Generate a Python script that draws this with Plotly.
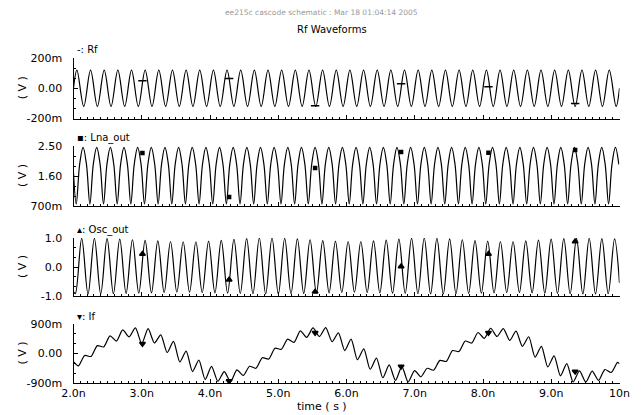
import plotly.graph_objects as go

# ---------------- data ----------------
x_ticks = [2, 3, 4, 5, 6, 7, 8, 9, 10]
x_ticktext = ["2.0n", "3.0n", "4.0n", "5.0n", "6.0n", "7.0n", "8.0n", "9.0n", "10n"]

# Rf: extrema times (ns) and values (V)
rf_times = [2.0] + [round(2.05 + 0.1 * k, 4) for k in range(80)] + [10.0]
rf_vals = [0.0,
    0.12, -0.12, 0.12, -0.12, 0.12, -0.12, 0.12, -0.12, 0.12, -0.12,
    0.12, -0.12, 0.12, -0.12, 0.12, -0.12, 0.12, -0.12, 0.12, -0.12,
    0.12, -0.12, 0.12, -0.12, 0.12, -0.12, 0.12, -0.12, 0.12, -0.12,
    0.12, -0.12, 0.12, -0.12, 0.12, -0.12, 0.12, -0.12, 0.12, -0.12,
    0.12, -0.12, 0.12, -0.12, 0.12, -0.12, 0.12, -0.12, 0.12, -0.12,
    0.12, -0.12, 0.12, -0.12, 0.12, -0.12, 0.12, -0.12, 0.12, -0.12,
    0.12, -0.12, 0.12, -0.12, 0.12, -0.12, 0.12, -0.12, 0.12, -0.12,
    0.12, -0.12, 0.12, -0.12, 0.12, -0.12, 0.12, -0.12, 0.12, -0.12,
    0.0]

# Lna_out: four samples per cycle (trough, rising, peak, falling)
lna_times = [2.0] + [round(1.94 + 0.05 * k, 4) for k in range(2, 162)]
lna_vals = [1.7] + [
    0.76, 1.95, 2.46, 1.95, 0.76, 1.95, 2.46, 1.95, 0.76, 1.95, 2.46, 1.95,
    0.76, 1.95, 2.46, 1.95, 0.76, 1.95, 2.46, 1.95, 0.76, 1.95, 2.46, 1.95,
    0.76, 1.95, 2.46, 1.95, 0.76, 1.95, 2.46, 1.95, 0.76, 1.95, 2.46, 1.95,
    0.76, 1.95, 2.46, 1.95, 0.76, 1.95, 2.46, 1.95, 0.76, 1.95, 2.46, 1.95,
    0.76, 1.95, 2.46, 1.95, 0.76, 1.95, 2.46, 1.95, 0.76, 1.95, 2.46, 1.95,
    0.76, 1.95, 2.46, 1.95, 0.76, 1.95, 2.46, 1.95, 0.76, 1.95, 2.46, 1.95,
    0.76, 1.95, 2.46, 1.95, 0.76, 1.95, 2.46, 1.95, 0.76, 1.95, 2.46, 1.95,
    0.76, 1.95, 2.46, 1.95, 0.76, 1.95, 2.46, 1.95, 0.76, 1.95, 2.46, 1.95,
    0.76, 1.95, 2.46, 1.95, 0.76, 1.95, 2.46, 1.95, 0.76, 1.95, 2.46, 1.95,
    0.76, 1.95, 2.46, 1.95, 0.76, 1.95, 2.46, 1.95, 0.76, 1.95, 2.46, 1.95,
    0.76, 1.95, 2.46, 1.95, 0.76, 1.95, 2.46, 1.95, 0.76, 1.95, 2.46, 1.95,
    0.76, 1.95, 2.46, 1.95, 0.76, 1.95, 2.46, 1.95, 0.76, 1.95, 2.46, 1.95,
    0.76, 1.95, 2.46, 1.95, 0.76, 1.95, 2.46, 1.95, 0.76, 1.95, 2.46, 1.95,
    0.76, 1.95, 2.46, 1.95]

# Osc_out: troughs then peaks, period ~0.1859 ns
osc_period = 0.1859
osc_times = [2.0]
for m in range(43):
    osc_times.append(round(2.027 + osc_period * m, 4))
    osc_times.append(round(2.12 + osc_period * m, 4))
osc_times.append(10.0)
osc_vals = [-0.85,
    -0.92, 0.99, -0.93, 0.99, -0.93, 0.98, -0.92, 0.96, -0.91, 0.94,
    -0.90, 0.92, -0.89, 0.90, -0.88, 0.88, -0.87, 0.87, -0.87, 0.87,
    -0.88, 0.89, -0.89, 0.92, -0.90, 0.95, -0.91, 0.98, -0.92, 1.0,
    -0.93, 1.0, -0.93, 0.99, -0.92, 0.97, -0.91, 0.94, -0.90, 0.91,
    -0.89, 0.89, -0.88, 0.88, -0.87, 0.88, -0.88, 0.90, -0.89, 0.93,
    -0.90, 0.96, -0.91, 0.99, -0.92, 1.0, -0.93, 0.99, -0.93, 0.97,
    -0.92, 0.94, -0.91, 0.91, -0.90, 0.89, -0.89, 0.88, -0.88, 0.88,
    -0.88, 0.90, -0.89, 0.93, -0.90, 0.96, -0.91, 0.98, -0.92, 0.99,
    -0.93, 0.99, -0.93, 0.98, -0.92, 0.97,
    -0.55]

# If: local extrema of the ripple (half-period ~0.093 ns)
if_times = [2.0] + [round(2.0705 + 0.09295 * k, 4) for k in range(86)] + [10.0]
if_vals = [-0.25,
    -0.38, -0.06, -0.09, 0.24, 0.20, 0.54, 0.38, 0.72, 0.51, 0.78,
    0.30, 0.76, 0.32, 0.57, 0.03, 0.37, -0.26, 0.07, -0.55, -0.20,
    -0.79, -0.39, -0.85, -0.55, -0.86, -0.50, -0.67, -0.39, -0.45, -0.13,
    -0.17, 0.16, 0.13, 0.44, 0.34, 0.69, 0.49, 0.78, 0.52, 0.79,
    0.36, 0.63, 0.09, 0.44, -0.19, 0.14, -0.48, -0.14, -0.74, -0.35,
    -0.82, -0.40, -0.87, -0.52, -0.71, -0.45, -0.51, -0.21, -0.24, 0.09,
    0.06, 0.38, 0.32, 0.64, 0.46, 0.77, 0.52, 0.76, 0.40, 0.68,
    0.22, 0.51, -0.11, 0.22, -0.41, -0.07, -0.68, -0.31, -0.87, -0.53,
    -0.87, -0.54, -0.82, -0.49, -0.58, -0.27,
    -0.32]

# marker positions (ns) and values on each curve
mk_times = [3.01, 4.28, 5.54, 6.80, 8.08, 9.35]
rf_mk = [0.05, 0.065, -0.115, 0.03, 0.01, -0.10]
lna_mk = [2.29, 0.97, 1.84, 2.32, 2.30, 2.38]
osc_mk = [0.45, -0.44, -0.85, 0.02, 0.45, 0.88]
if_mk = [0.30, -0.84, 0.63, -0.40, 0.63, -0.55]

panels = [
    dict(name="Rf", t=rf_times, v=rf_vals, mk=rf_mk, sym="line-ew-open", msize=6,
         rng=[-0.2, 0.2], tv=[-0.2, 0.0, 0.2], tt=["-200m", "0.00", "200m"],
         label="-: Rf"),
    dict(name="Lna_out", t=lna_times, v=lna_vals, mk=lna_mk, sym="square", msize=3,
         rng=[0.7, 2.5], tv=[0.7, 1.6, 2.5], tt=["700m", "1.60", "2.50"],
         label="▪: Lna_out"),
    dict(name="Osc_out", t=osc_times, v=osc_vals, mk=osc_mk, sym="triangle-up", msize=5,
         rng=[-1.0, 1.0], tv=[-1.0, 0.0, 1.0], tt=["-1.0", "0.0", "1.0"],
         label="▴: Osc_out"),
    dict(name="If", t=if_times, v=if_vals, mk=if_mk, sym="triangle-down", msize=5,
         rng=[-0.9, 0.9], tv=[-0.9, 0.0, 0.9], tt=["-900m", "0.00", "900m"],
         label="▾: If"),
]

# ---------------- layout geometry (pixels) ----------------
W, H = 643, 415
X0, X1 = 73.5, 619.5
panel_px = [(58, 118.5), (146, 206), (238, 296), (324, 383)]

def py(p):
    return 1 - p / H

FONT = "DejaVu Sans"
fig = go.Figure()
annotations = []
layout = {}

for i, p in enumerate(panels):
    n = i + 1
    xa = "x" if n == 1 else f"x{n}"
    ya = "y" if n == 1 else f"y{n}"
    top, bot = panel_px[i]
    fig.add_trace(go.Scatter(
        x=p["t"], y=p["v"], mode="lines", xaxis=xa, yaxis=ya,
        line=dict(color="black", width=1.2, shape="spline",
                  smoothing=(0.7 if p["name"] == "If" else 1.0)),
        showlegend=False, hoverinfo="skip"))
    fig.add_trace(go.Scatter(
        x=mk_times, y=p["mk"], mode="markers", xaxis=xa, yaxis=ya,
        marker=dict(symbol=p["sym"], size=p["msize"], color="black",
                    line=dict(color="black", width=1.5)),
        showlegend=False, hoverinfo="skip"))
    span = p["rng"][1] - p["rng"][0]
    layout["xaxis" if n == 1 else f"xaxis{n}"] = dict(
        domain=[X0 / W, X1 / W], range=[2, 10], anchor=ya, automargin=False,
        showline=True, linecolor="black", linewidth=1,
        ticks="inside", ticklen=4, tickcolor="black", tickwidth=1,
        tickvals=x_ticks, ticktext=x_ticktext,
        showticklabels=(n == 4), showgrid=False, zeroline=False,
        minor=dict(ticks="inside", ticklen=2, tickcolor="black",
                   dtick=0.1, tick0=2, showgrid=False),
        tickfont=dict(family=FONT, size=11, color="black"))
    layout["yaxis" if n == 1 else f"yaxis{n}"] = dict(
        domain=[py(bot), py(top)], range=p["rng"], anchor=xa, automargin=False,
        showline=True, linecolor="black", linewidth=1,
        ticks="inside", ticklen=4, tickcolor="black",
        tickvals=p["tv"], ticktext=p["tt"], showgrid=False, zeroline=False,
        ticklabelstandoff=8,
        minor=dict(ticks="inside", ticklen=2, tickcolor="black",
                   dtick=span / 6, tick0=p["rng"][0], showgrid=False),
        tickfont=dict(family=FONT, size=11, color="black"))
    annotations.append(dict(
        text="( V )", x=22 / W, y=py((top + bot) / 2), xref="paper", yref="paper",
        showarrow=False, textangle=-90, font=dict(family=FONT, size=11, color="black"),
        xanchor="center", yanchor="middle"))
    annotations.append(dict(
        text=p["label"], x=75 / W, y=py(top - 8), xref="paper", yref="paper",
        showarrow=False, font=dict(family=FONT, size=10, color="black"),
        xanchor="left", yanchor="middle"))

annotations += [
    dict(text="ee215c cascode schematic : Mar 18 01:04:14 2005", x=321 / W, y=py(13),
         xref="paper", yref="paper", showarrow=False,
         font=dict(family=FONT, size=7.5, color="#9a9a9a"), xanchor="center", yanchor="middle"),
    dict(text="Rf Waveforms", x=332 / W, y=py(29), xref="paper", yref="paper",
         showarrow=False, font=dict(family=FONT, size=10, color="black"),
         xanchor="center", yanchor="middle"),
    dict(text="time ( s )", x=322 / W, y=py(406), xref="paper", yref="paper",
         showarrow=False, font=dict(family=FONT, size=11, color="black"),
         xanchor="center", yanchor="middle"),
]

fig.update_layout(
    width=W, height=H, margin=dict(l=0, r=0, t=0, b=0, autoexpand=False),
    paper_bgcolor="white", plot_bgcolor="white",
    annotations=annotations, **layout)

fig.write_html("out.html", config={"displayModeBar": False},
               post_script="document.body.style.margin='0px';"
                           "document.body.style.overflow='hidden';")
